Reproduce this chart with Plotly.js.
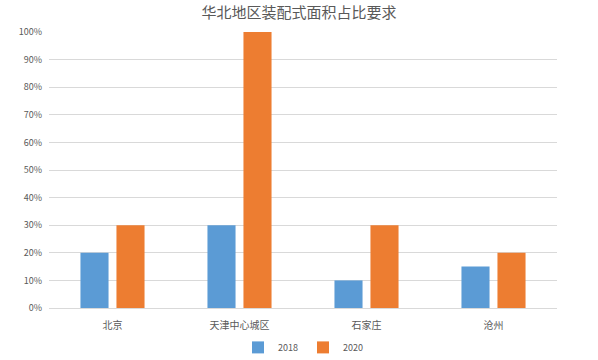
<!DOCTYPE html>
<html>
<head>
<meta charset="utf-8">
<script src="https://cdn.plot.ly/plotly-3.0.1.min.js"></script>
<style>html,body{margin:0;padding:0;background:#fff;}#chart{width:598px;height:360px;}</style>
</head>
<body>
<div id="chart"></div>
<script>
var categories = ["北京", "天津中心城区", "石家庄", "沧州"];
var series2018 = [0.20, 0.30, 0.10, 0.15];
var series2020 = [0.30, 1.00, 0.30, 0.20];
var yTicks = [0, 0.1, 0.2, 0.3, 0.4, 0.5, 0.6, 0.7, 0.8, 0.9, 1.0];

var fontFam = '"Noto Sans CJK SC", "Noto Sans", sans-serif';
var data = [
  {type: 'bar', name: '2018', x: categories, y: series2018, marker: {color: '#5B9BD5'}},
  {type: 'bar', name: '2020', x: categories, y: series2020, marker: {color: '#ED7D31'}}
];
var layout = {
  width: 598, height: 360,
  margin: {l: 48.5, r: 41, t: 32, b: 52, autoexpand: false},
  paper_bgcolor: '#fff', plot_bgcolor: '#fff',
  font: {family: fontFam, color: '#595959', size: 9},
  title: {text: '华北地区装配式面积占比要求', x: 0.5, xanchor: 'center', y: 0.965, yanchor: 'middle',
          font: {family: fontFam, size: 15, color: '#595959'}},
  barmode: 'group', bargap: 0.433, bargroupgap: 0.22,
  xaxis: {tickfont: {size: 10, color: '#595959'}, showline: true, linecolor: '#D9D9D9', linewidth: 1,
          ticks: '', ticklabelstandoff: 8, automargin: false, fixedrange: true},
  yaxis: {range: [0, 1.0], tickvals: yTicks, tickformat: '.0%', showgrid: true, gridcolor: '#D9D9D9',
          gridwidth: 1, zeroline: false, showline: false, ticks: '', ticklen: 0, ticklabelstandoff: 6,
          tickfont: {size: 9, color: '#595959'}, automargin: false, fixedrange: true},
  showlegend: true,
  legend: {orientation: 'h', x: 0.5, xanchor: 'center', yref: 'container', y: 0.035, yanchor: 'middle',
           font: {size: 9, color: '#595959'}, itemwidth: 30, traceorder: 'normal', tracegroupgap: 0}
};
Plotly.newPlot('chart', data, layout, {displayModeBar: false, staticPlot: true});
</script>
</body>
</html>
